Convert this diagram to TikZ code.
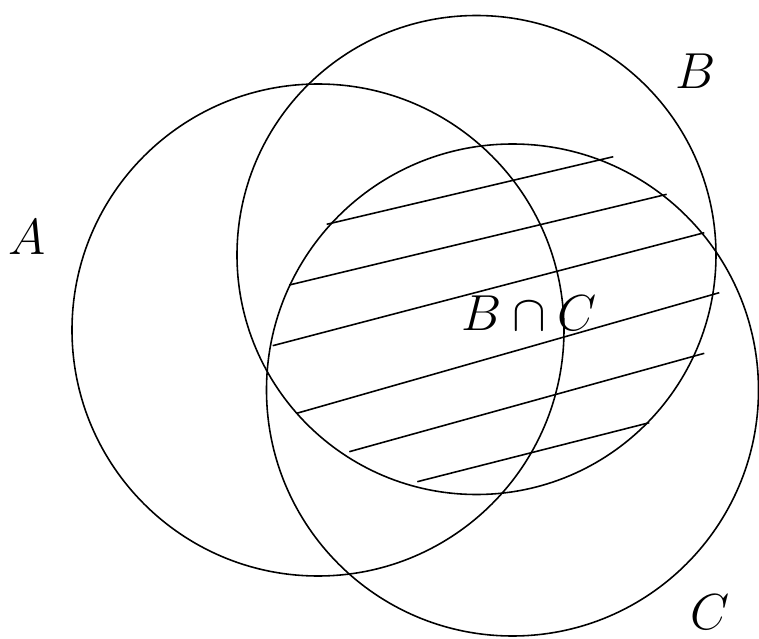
\documentclass[tikz,border=0pt]{standalone}
\usepackage{amsmath,amssymb}

\begin{document}
\begin{tikzpicture}[x=.01cm,y=-.01cm,
  every node/.style={inner sep=0pt,font=\fontsize{15.5}{18.5}\selectfont},
  set/.style={line width=.45pt},
  hatch/.style={line width=.45pt},
  lbl/.style={anchor=center}]

% page frame, in picture units (one unit per pixel of the reference)
\useasboundingbox (0,0) rectangle (759,639);

% -------------------------------------------------------------------------
% The three sets.
% -------------------------------------------------------------------------
\draw[set] (318,330) circle[radius=246];   % A
\draw[set] (476.5,255) circle[radius=239.5]; % B
\draw[set] (512.5,390) circle[radius=246];  % C

% -------------------------------------------------------------------------
% Hatching of B \cap C, drawn by hand.
% -------------------------------------------------------------------------
\draw[hatch] (326.7,224.3) -- (613.3,156.7);
\draw[hatch] (289.3,285.0) -- (666.7,194.3);
\draw[hatch] (272.7,345.7) -- (704.3,232.7);
\draw[hatch] (296.7,413.3) -- (719.3,292.7);
\draw[hatch] (349.3,451.7) -- (704.3,353.3);
\draw[hatch] (417.3,481.7) -- (649.3,422.7);

% -------------------------------------------------------------------------
% Labels.
% -------------------------------------------------------------------------
\node[lbl] (labA)  at (27.5,237)  {$A$};
\node[lbl] (labB)  at (695.5,71)  {$B$};
\node[lbl] (labC)  at (710,612)   {$C$};
\node[lbl] (labBC) at (529,313.5) {$B\cap C$};
\end{tikzpicture}
\end{document}
